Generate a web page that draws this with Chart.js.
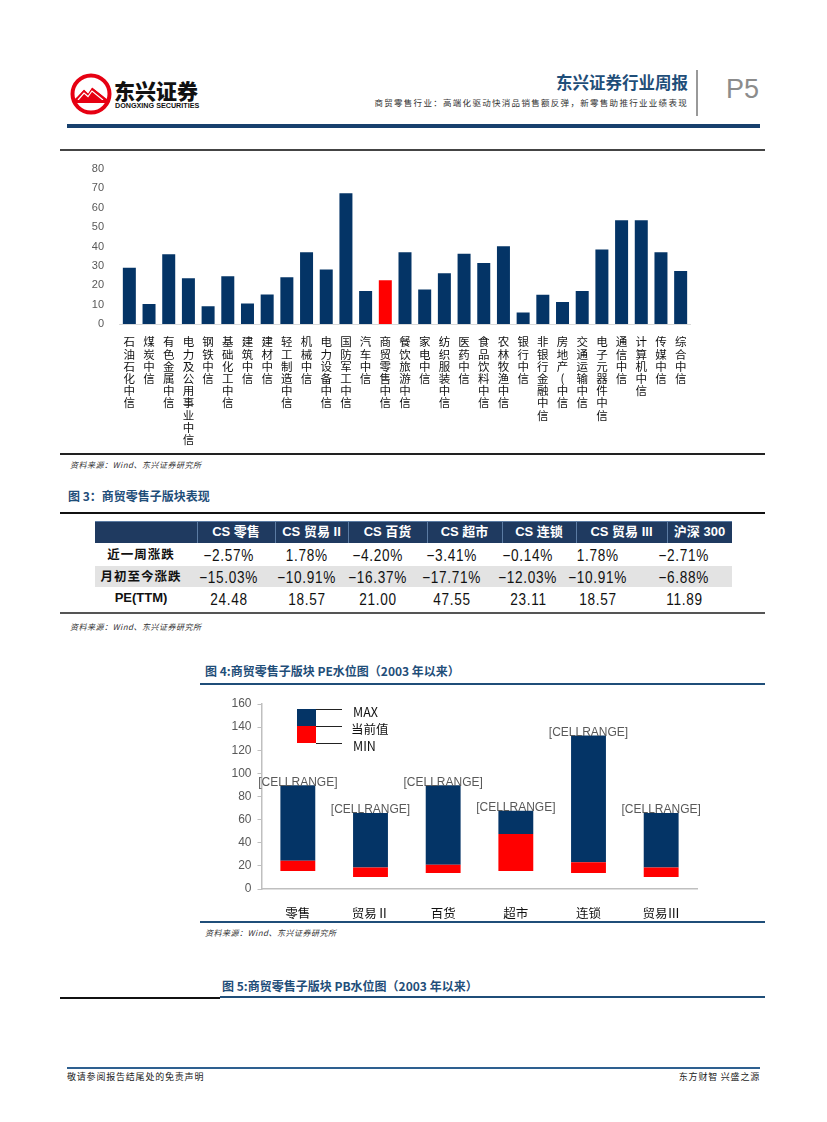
<!DOCTYPE html>
<html><head><meta charset="utf-8">
<script src="https://cdn.jsdelivr.net/npm/chart.js@4.4.0/dist/chart.umd.min.js"></script>
<style>
body{margin:0;background:#fff;}
#page{position:relative;width:827px;height:1122px;overflow:hidden;font-family:"Noto Sans CJK SC",sans-serif;background:#fff;}
.a{position:absolute;white-space:nowrap;}
.ln{position:absolute;}
.src{font-size:8px;font-style:italic;color:#333;letter-spacing:0.5px;}
.ftitle{font-size:12px;font-weight:bold;color:#1F4E79;}
.cell{position:absolute;text-align:center;white-space:nowrap;}
.num span{display:inline-block;font-family:"Liberation Sans",sans-serif;font-size:16px;letter-spacing:0.8px;color:#111;transform:scaleX(0.85);transform-origin:center;}
.hdr{font-weight:bold;color:#fff;font-size:13px;font-family:"Liberation Sans","Noto Sans CJK SC",sans-serif;}
.rl{font-weight:bold;font-size:12.5px;color:#111;letter-spacing:1px;}
</style></head>
<body><div id="page">
<!-- header -->
<svg class="a" style="left:70px;top:73px" width="42" height="42" viewBox="0 0 42 42">
  <circle cx="21" cy="21" r="18.5" fill="#fff" stroke="#E60012" stroke-width="4"/>
  <path d="M4 27 L14 16 L18 20 L22 14 L38 27 Z" fill="#E60012"/>
  <path d="M6 24 L14 15.5 L18 19.5 L22 13.5 L36 24" fill="none" stroke="#fff" stroke-width="1.2"/>
  <path d="M8 27 L14 20 L18 23.5 L22 18 L33 27" fill="none" stroke="#fff" stroke-width="1.2"/>
  <rect x="3" y="27" width="36" height="3" fill="#E60012"/>
</svg>
<div class="a" style="left:114px;top:75px;font-size:21px;font-weight:900;color:#111;">东兴证券</div>
<div class="a" style="left:115px;top:101px;font-size:7.2px;font-weight:bold;color:#111;font-family:'Liberation Sans',sans-serif;">DONGXING SECURITIES</div>
<div class="a" style="right:139px;top:70px;font-size:16.5px;font-weight:bold;color:#1F4E79;">东兴证券行业周报</div>
<div class="a" style="right:139px;top:96px;font-size:8.5px;color:#333;letter-spacing:1.3px;">商贸零售行业：高端化驱动快消品销售额反弹，新零售助推行业业绩表现</div>
<div class="ln" style="left:696px;top:70px;width:2px;height:46px;background:#999;"></div>
<div class="a" style="left:726px;top:74px;font-size:27px;color:#8c8c8c;font-family:'Liberation Sans',sans-serif;">P5</div>
<div class="ln" style="left:67px;top:124px;width:693px;height:4px;background:#17406D;"></div>

<!-- figure: industries -->
<div class="ln" style="left:60px;top:149px;width:705px;height:2px;background:#444;"></div>
<canvas id="c1" class="a" style="left:60px;top:147px" width="705" height="303"></canvas>
<div class="ln" style="left:60px;top:453px;width:705px;height:2px;background:#222;"></div>
<div class="a src" style="left:70px;top:459px;">资料来源：Wind、东兴证券研究所</div>

<!-- figure 3 table -->
<div class="a ftitle" style="left:68px;top:487px;">图 3：商贸零售子版块表现</div>
<div class="ln" style="left:60px;top:512px;width:705px;height:2px;background:#111;"></div>
<div class="ln" style="left:60px;top:612px;width:705px;height:2px;background:#555;"></div>
<div class="a src" style="left:70px;top:621px;">资料来源：Wind、东兴证券研究所</div>

<!-- figure 4 -->
<div class="a ftitle" style="left:205px;top:662px;">图 4:商贸零售子版块 PE水位图（2003 年以来）</div>
<div class="ln" style="left:200px;top:683px;width:565px;height:2px;background:#1F4E79;"></div>
<canvas id="c2" class="a" style="left:200px;top:690px" width="565" height="230"></canvas>
<div class="ln" style="left:200px;top:921px;width:565px;height:2px;background:#1F4E79;"></div>
<div class="a src" style="left:205px;top:927px;">资料来源：Wind、东兴证券研究所</div>

<!-- figure 5 -->
<div class="a ftitle" style="left:222px;top:977px;">图 5:商贸零售子版块 PB水位图（2003 年以来）</div>
<div class="ln" style="left:60px;top:997px;width:160px;height:2px;background:#111;"></div>
<div class="ln" style="left:220px;top:996px;width:545px;height:2px;background:#1F4E79;"></div>

<!-- footer -->
<div class="ln" style="left:67px;top:1067px;width:693px;height:2px;background:#2E6090;"></div>
<div class="a" style="left:67px;top:1070px;font-size:9px;color:#222;letter-spacing:0.8px;">敬请参阅报告结尾处的免责声明</div>
<div class="a" style="right:67px;top:1070px;font-size:9px;color:#222;letter-spacing:0.8px;">东方财智 兴盛之源</div>
</div>
<script>
// ---------- data: industry chart ----------
const industries = ['石油石化 中信','煤炭 中信','有色金属 中信','电力及公用事业中信','钢铁 中信','基础化工 中信','建筑 中信','建材 中信','轻工制造 中信','机械 中信','电力设备 中信','国防军工 中信','汽车 中信','商贸零售 中信','餐饮旅游 中信','家电 中信','纺织服装 中信','医药 中信','食品饮料 中信','农林牧渔 中信','银行 中信','非银行金融 中信','房地产(中信','交通运输 中信','电子元器件 中信','通信 中信','计算机 中信','传媒 中信','综合 中信'];
const industryValues = [29.1,10.3,36.0,23.6,9.2,24.7,10.6,15.2,24.1,37.0,28.1,67.5,17.1,22.6,37.0,17.8,26.2,36.3,31.5,40.2,6.0,15.1,11.3,17.1,38.5,53.6,53.6,37.0,27.4];
const highlightIndustry = '商贸零售 中信';
const industryTicks = [0,10,20,30,40,50,60,70,80];

// ---------- data: table ----------
const tableCols = ['CS 零售','CS 贸易 II','CS 百货','CS 超市','CS 连锁','CS 贸易 III','沪深 300'];
const rowLabels = ['近一周涨跌','月初至今涨跌','PE(TTM)'];
const weekChg = [-2.57,1.78,-4.20,-3.41,-0.14,1.78,-2.71];
const monthChg = [-15.03,-10.91,-16.37,-17.71,-12.03,-10.91,-6.88];
const peTTM = [24.48,18.57,21.00,47.55,23.11,18.57,11.89];

// ---------- data: PE water level ----------
const peCategories = ['零售','贸易Ⅱ','百货','超市','连锁','贸易Ⅲ'];
const peMax = [89.7,65.7,89.7,67.7,132.8,65.7];
const peCurrent = [24.48,18.57,21.00,47.55,23.11,18.57];
const peMin = [15.5,10.3,13.8,15.5,13.8,10.3];
const peTicks = [0,20,40,60,80,100,120,140,160];
const legendLabels = ['MAX','当前值','MIN'];
const cellLabel = '[CELLRANGE]';

const NAVY = '#043466', RED = '#FF0000';

// ---------- table ----------
(function(){
  const page = document.getElementById('page');
  const hdrBounds = [95,197,275,348,427,502,576,667,732];
  const bodyCenters = [229,307,378,452,528,598,684];
  const labelCenter = 141;
  const rowTops = [543,565,587];
  const rowH = 22;
  function add(txt, css, cls){const d=document.createElement('div');d.className=cls||'cell';d.style.cssText=css;if(txt)d.textContent=txt;page.appendChild(d);return d;}
  add('', 'left:95px;top:521px;width:637px;height:22px;background:#1F3A60;', 'ln');
  for(let i=1;i<hdrBounds.length-1;i++){
    add('', `left:${hdrBounds[i]}px;top:521px;width:1px;height:22px;background:#5B7BA3;`, 'ln');
  }
  add('', 'left:95px;top:521px;width:637px;height:1px;background:#5B7BA3;', 'ln');
  tableCols.forEach((c,i)=>{
    const l=hdrBounds[i+1], w=hdrBounds[i+2]-hdrBounds[i+1];
    const d=add(c, `left:${l}px;top:521px;width:${w}px;height:22px;line-height:22px;`);
    d.classList.add('hdr');
  });
  add('', `left:95px;top:${rowTops[1]+1}px;width:637px;height:21px;background:#E3E3E3;`, 'ln');
  const fmtPct = v => (v<0?'−':'') + Math.abs(v).toFixed(2) + '%';
  const fmt = v => v.toFixed(2);
  const rows = [weekChg.map(fmtPct), monthChg.map(fmtPct), peTTM.map(fmt)];
  rows.forEach((r,ri)=>{
    const lab = add(rowLabels[ri], `left:${labelCenter-60}px;top:${rowTops[ri]}px;width:120px;height:${rowH}px;line-height:${rowH}px;`);
    lab.classList.add('rl');
    if(ri===2){lab.style.fontFamily="'Liberation Sans',sans-serif";lab.style.fontSize='13px';lab.style.letterSpacing='0';}
    r.forEach((v,ci)=>{
      const d=add('', `left:${bodyCenters[ci]-45}px;top:${rowTops[ri]}px;width:90px;height:${rowH}px;line-height:${rowH}px;`);
      d.classList.add('num');
      const s=document.createElement('span'); s.textContent=v; d.appendChild(s);
    });
  });
})();

// ---------- chart 1 ----------
new Chart(document.getElementById('c1'), {
  type:'bar',
  data:{labels:industries, datasets:[{data:industryValues,
    backgroundColor:industries.map(n=>n===highlightIndustry?RED:NAVY),
    barPercentage:0.66, categoryPercentage:1}]},
  options:{responsive:false, animation:false, devicePixelRatio:1,
    layout:{padding:{top:11,right:74.5,left:0,bottom:0}},
    plugins:{legend:{display:false},tooltip:{enabled:false}},
    scales:{
      x:{grid:{display:false}, border:{display:true,color:'#D9D9D9',width:1},
        afterFit:s=>{s.height=126;},
        ticks:{autoSkip:false,maxRotation:0,minRotation:0,padding:4,color:'#111',
          font:{family:'"Noto Sans CJK SC"',size:11.5,lineHeight:1.06},
          callback:function(v){return Array.from(this.getLabelForValue(v).replace(/\s/g,''));}}},
      y:{min:0,max:80,grid:{display:false,drawTicks:false},border:{display:false},
        afterFit:s=>{s.width=59.5;},
        afterBuildTicks:s=>{s.ticks=industryTicks.map(v=>({value:v}));},
        ticks:{padding:15.5,color:'#595959',font:{family:'"Liberation Sans"',size:11}}}
    }}
});

// ---------- chart 2 ----------
const peDecor = {
  id:'peDecor',
  afterDatasetsDraw(chart){
    const ctx = chart.ctx;
    const meta = chart.getDatasetMeta(1);
    ctx.save();
    ctx.font = '12px "Liberation Sans"';
    ctx.fillStyle = '#595959'; ctx.textAlign='center'; ctx.textBaseline='middle';
    meta.data.forEach(b=>ctx.fillText(cellLabel, b.x, b.y-3));
    const lx=97, ly=19, bw=19, bh=17;
    ctx.fillStyle=NAVY; ctx.fillRect(lx,ly,bw,bh);
    ctx.fillStyle=RED; ctx.fillRect(lx,ly+bh,bw,bh);
    ctx.strokeStyle='#222'; ctx.lineWidth=1;
    for(let i=0;i<3;i++){ctx.beginPath();ctx.moveTo(lx+bw,ly+i*bh+0.5);ctx.lineTo(lx+bw+26,ly+i*bh+0.5);ctx.stroke();}
    ctx.fillStyle='#111'; ctx.textAlign='left';
    ctx.font='12.5px "Noto Sans CJK SC"';
    legendLabels.forEach((t,i)=>ctx.fillText(t, i===1?151:153, ly+3+i*bh));
    ctx.restore();
  }
};
new Chart(document.getElementById('c2'), {
  type:'bar',
  data:{labels:peCategories, datasets:[
    {data:peMin.map((m,i)=>[m,peCurrent[i]]), backgroundColor:RED, grouped:false, barPercentage:0.48, categoryPercentage:1},
    {data:peCurrent.map((c,i)=>[c,peMax[i]]), backgroundColor:NAVY, grouped:false, barPercentage:0.48, categoryPercentage:1}
  ]},
  options:{responsive:false, animation:false, devicePixelRatio:1,
    layout:{padding:{top:14,right:67.5,left:0,bottom:0}},
    plugins:{legend:{display:false},tooltip:{enabled:false}},
    scales:{
      x:{grid:{display:false}, border:{display:true,color:'#BFBFBF',width:1.5},
        afterFit:s=>{s.height=31;},
        ticks:{padding:9,color:'#111',font:{family:'"Noto Sans CJK SC"',size:12.5}}},
      y:{min:0,max:160,grid:{display:true,drawOnChartArea:false,drawTicks:true,tickLength:4,color:'#BFBFBF'},
        border:{display:true,color:'#BFBFBF',width:1.5},
        afterFit:s=>{s.width=61.5;},
        afterBuildTicks:s=>{s.ticks=peTicks.map(v=>({value:v}));},
        ticks:{padding:6,color:'#595959',font:{family:'"Liberation Sans"',size:12}}}
    }},
  plugins:[peDecor]
});
</script>
</body></html>
